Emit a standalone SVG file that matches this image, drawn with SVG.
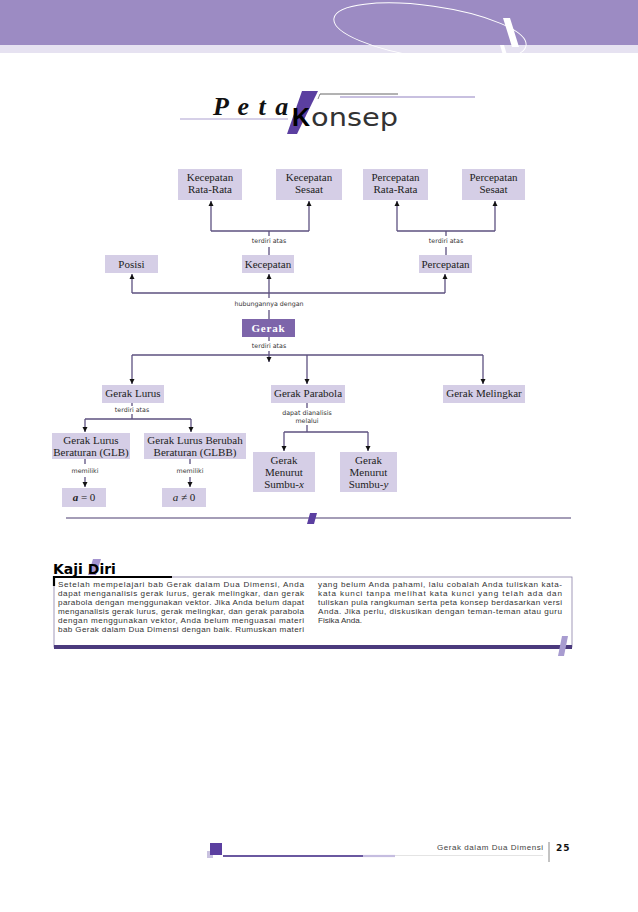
<svg xmlns="http://www.w3.org/2000/svg" width="638" height="912" viewBox="0 0 638 912">
<defs>
<style>
.box{fill:#d5cee6}
.lbl{font-family:"Liberation Serif",serif;font-size:11px;fill:#222;text-anchor:middle}
.sm{font-family:"DejaVu Sans",sans-serif;font-size:6.3px;fill:#333;text-anchor:middle}
.conn{stroke:#5d5180;stroke-width:1.3;fill:none}
.par{font-family:"Liberation Sans",sans-serif;font-size:8.1px;fill:#333}
</style>
<marker id="ad" markerUnits="userSpaceOnUse" markerWidth="6" markerHeight="6" refX="3" refY="5.5" orient="0" viewBox="0 0 6 6">
<path d="M0.5,0.5 L5.5,0.5 L3,5.5 Z" fill="#111"/>
</marker>
<marker id="au" markerUnits="userSpaceOnUse" markerWidth="6" markerHeight="6" refX="3" refY="0.5" orient="0" viewBox="0 0 6 6">
<path d="M0.5,5.5 L5.5,5.5 L3,0.5 Z" fill="#111"/>
</marker>
</defs>
<rect width="638" height="912" fill="#fff"/>
<!-- header -->
<rect x="0" y="0" width="638" height="45" fill="#9c8bc3"/>
<rect x="0" y="45" width="638" height="8" fill="#e6e2f1"/>
<ellipse cx="430" cy="32" rx="97" ry="26" transform="rotate(8 430 32)" fill="none" stroke="#fff" stroke-width="1"/>
<polygon points="503,18 510,18 519,47 512,47" fill="#fff"/>
<polygon points="500,45 504,45 509,62 505,62" fill="#fff"/>
<!-- title -->
<line x1="180" y1="119" x2="288" y2="119" stroke="#c8c0e0" stroke-width="1.5"/>
<line x1="340" y1="97" x2="475" y2="97" stroke="#c8c0e0" stroke-width="2"/>
<line x1="320" y1="94" x2="398" y2="94" stroke="#666" stroke-width="1"/>
<line x1="320" y1="94" x2="318" y2="99" stroke="#666" stroke-width="0.8"/>
<polygon points="302,91 318,91 297,134 287,134" fill="#5b3fa0"/>
<text x="213" y="115" font-family="Liberation Serif,serif" font-style="italic" font-weight="bold" font-size="26" fill="#111" letter-spacing="1.5">P e t a</text>
<text x="292" y="126" font-family="Liberation Sans,sans-serif" font-weight="bold" font-size="25" fill="#000">K</text>
<text x="311" y="126" font-family="DejaVu Sans,sans-serif" font-size="25" fill="#333" textLength="87" lengthAdjust="spacingAndGlyphs">onsep</text>
<!-- connectors -->
<g id="connectors">
<path class="conn" d="M211,231 H309 M269,231 V236 M269,247 V255" />
<path class="conn" d="M211,231 V201" marker-end="url(#au)"/>
<path class="conn" d="M309,231 V201" marker-end="url(#au)"/>
<path class="conn" d="M397,231 H495 M446,231 V236 M446,247 V255"/>
<path class="conn" d="M397,231 V201" marker-end="url(#au)"/>
<path class="conn" d="M495,231 V201" marker-end="url(#au)"/>
<path class="conn" d="M132,293 H445 M269,293 V298 M269,310 V319"/>
<path class="conn" d="M132,293 V274" marker-end="url(#au)"/>
<path class="conn" d="M269,293 V274" marker-end="url(#au)"/>
<path class="conn" d="M445,293 V274" marker-end="url(#au)"/>
<path class="conn" d="M269,337 V341 M132,355 H483"/>
<path class="conn" d="M269,351 V362" marker-end="url(#ad)"/>
<path class="conn" d="M132,355 V384" marker-end="url(#ad)"/>
<path class="conn" d="M307,355 V384" marker-end="url(#ad)"/>
<path class="conn" d="M483,355 V384" marker-end="url(#ad)"/>
<path class="conn" d="M132,403 V406 M132,414 V419 M85,419 H191"/>
<path class="conn" d="M85,419 V432" marker-end="url(#ad)"/>
<path class="conn" d="M191,419 V432" marker-end="url(#ad)"/>
<path class="conn" d="M307,403 V408 M307,425 V432 M284,432 H368"/>
<path class="conn" d="M284,432 V451" marker-end="url(#ad)"/>
<path class="conn" d="M368,432 V451" marker-end="url(#ad)"/>
<path class="conn" d="M85,459 V464 M190,459 V464"/>
<path class="conn" d="M85,477 V487" marker-end="url(#ad)"/>
<path class="conn" d="M190,477 V487" marker-end="url(#ad)"/>
<text class="sm" x="269" y="243">terdiri  atas</text>
<text class="sm" x="446" y="243">terdiri  atas</text>
<text class="sm" x="269" y="306">hubungannya  dengan</text>
<text class="sm" x="269" y="348">terdiri  atas</text>
<text class="sm" x="132" y="412">terdiri  atas</text>
<text class="sm" x="307" y="415">dapat  dianalisis</text>
<text class="sm" x="307" y="423">melalui</text>
<text class="sm" x="85" y="473">memiliki</text>
<text class="sm" x="190" y="473">memiliki</text>
</g>
<!-- nodes -->
<g id="n-kec-rr"><rect class="box" x="178" y="169" width="64" height="31"/><text class="lbl" x="210" y="181">Kecepatan</text><text class="lbl" x="210" y="193">Rata-Rata</text></g>
<g id="n-kec-s"><rect class="box" x="276" y="169" width="66" height="31"/><text class="lbl" x="309" y="181">Kecepatan</text><text class="lbl" x="309" y="193">Sesaat</text></g>
<g id="n-per-rr"><rect class="box" x="363" y="169" width="65" height="31"/><text class="lbl" x="395.5" y="181">Percepatan</text><text class="lbl" x="395.5" y="193">Rata-Rata</text></g>
<g id="n-per-s"><rect class="box" x="462" y="169" width="63" height="31"/><text class="lbl" x="493.5" y="181">Percepatan</text><text class="lbl" x="493.5" y="193">Sesaat</text></g>
<g id="n-posisi"><rect class="box" x="105" y="255" width="53" height="18"/><text class="lbl" x="131.5" y="268">Posisi</text></g>
<g id="n-kec"><rect class="box" x="242" y="255" width="52" height="18"/><text class="lbl" x="268" y="268">Kecepatan</text></g>
<g id="n-per"><rect class="box" x="419" y="255" width="53" height="18"/><text class="lbl" x="445.5" y="268">Percepatan</text></g>
<g id="n-gerak"><rect x="242" y="319" width="53" height="18" fill="#7d65aa"/><text class="lbl" x="268.5" y="332" style="fill:#fff;font-weight:bold" letter-spacing="0.8">Gerak</text></g>
<g id="n-lurus"><rect class="box" x="102" y="385" width="62" height="18"/><text class="lbl" x="133" y="397">Gerak Lurus</text></g>
<g id="n-parabola"><rect class="box" x="271" y="385" width="74" height="18"/><text class="lbl" x="308" y="397">Gerak Parabola</text></g>
<g id="n-melingkar"><rect class="box" x="443" y="385" width="82" height="18"/><text class="lbl" x="484" y="397">Gerak Melingkar</text></g>
<g id="n-glb"><rect class="box" x="52" y="433" width="78" height="26"/><text class="lbl" x="91" y="444">Gerak Lurus</text><text class="lbl" x="91" y="456">Beraturan (GLB)</text></g>
<g id="n-glbb"><rect class="box" x="144" y="433" width="102" height="26"/><text class="lbl" x="195" y="444">Gerak Lurus Berubah</text><text class="lbl" x="195" y="456">Beraturan (GLBB)</text></g>
<g id="n-sx"><rect class="box" x="253" y="452" width="62" height="40"/><text class="lbl" x="284" y="464">Gerak</text><text class="lbl" x="284" y="476">Menurut</text><text class="lbl" x="284" y="488">Sumbu-<tspan font-style="italic">x</tspan></text></g>
<g id="n-sy"><rect class="box" x="340" y="452" width="57" height="40"/><text class="lbl" x="368.5" y="464">Gerak</text><text class="lbl" x="368.5" y="476">Menurut</text><text class="lbl" x="368.5" y="488">Sumbu-<tspan font-style="italic">y</tspan></text></g>
<g id="n-a0"><rect class="box" x="62" y="488" width="44" height="19"/><text class="lbl" x="84" y="501"><tspan font-style="italic" font-weight="bold">a</tspan> = 0</text></g>
<g id="n-an0"><rect class="box" x="162" y="488" width="44" height="19"/><text class="lbl" x="184" y="501"><tspan font-style="italic">a</tspan> ≠ 0</text></g>
<!-- rule -->
<line x1="66" y1="518" x2="571" y2="518" stroke="#4a3d70" stroke-width="1.2"/>
<polygon points="310,513 317,513 314,524 307,524" fill="#5b3fa0"/>
<!-- Kaji Diri -->
<polygon points="93,559 101,559 96,575 88,575" fill="#a494d0"/>
<text x="53" y="574" font-family="DejaVu Sans,sans-serif" font-weight="bold" font-size="14" fill="#000">Kaji Diri</text>
<rect x="54" y="577" width="518" height="70" fill="none" stroke="#8a80a8" stroke-width="0.8"/>
<path d="M54,586 V577 H172" fill="none" stroke="#000" stroke-width="2.2"/>
<rect x="54" y="645" width="518" height="4" fill="#4b3a7d"/>
<polygon points="562,636 568,636 564,656 558,656" fill="#a89cd0"/>
<g class="par">
<text x="58" y="587" textLength="246" lengthAdjust="spacing">Setelah mempelajari bab Gerak dalam Dua Dimensi, Anda</text>
<text x="58" y="596" textLength="246" lengthAdjust="spacing">dapat menganalisis gerak lurus, gerak melingkar, dan gerak</text>
<text x="58" y="605" textLength="246" lengthAdjust="spacing">parabola dengan menggunakan vektor. Jika Anda belum dapat</text>
<text x="58" y="614" textLength="246" lengthAdjust="spacing">menganalisis gerak lurus, gerak melingkar, dan gerak parabola</text>
<text x="58" y="623" textLength="246" lengthAdjust="spacing">dengan menggunakan vektor, Anda belum menguasai materi</text>
<text x="58" y="632" textLength="246" lengthAdjust="spacing">bab Gerak dalam Dua Dimensi dengan baik. Rumuskan materi</text>
<text x="318" y="587" textLength="244" lengthAdjust="spacing">yang belum Anda pahami, lalu cobalah Anda tuliskan kata-</text>
<text x="318" y="596" textLength="244" lengthAdjust="spacing">kata kunci tanpa melihat kata kunci yang telah ada dan</text>
<text x="318" y="605" textLength="244" lengthAdjust="spacing">tuliskan pula rangkuman serta peta konsep berdasarkan versi</text>
<text x="318" y="614" textLength="244" lengthAdjust="spacing">Anda. Jika perlu, diskusikan dengan teman-teman atau guru</text>
<text x="318" y="623">Fisika Anda.</text>
</g>
<!-- footer -->
<rect x="207" y="851" width="6" height="7" fill="#c9c2e0"/>
<rect x="210" y="843" width="12" height="12" fill="#5b3fa0"/>
<line x1="223" y1="856" x2="363" y2="856" stroke="#6a58a0" stroke-width="2.2"/>
<line x1="363" y1="856" x2="395" y2="856" stroke="#c5bde0" stroke-width="2.2"/>
<line x1="395" y1="855.5" x2="543" y2="855.5" stroke="#ddd" stroke-width="0.8"/>
<text x="437" y="850" font-family="Liberation Sans,sans-serif" font-size="8" fill="#444" textLength="106" lengthAdjust="spacing">Gerak dalam Dua Dimensi</text>
<line x1="549" y1="842" x2="549" y2="862" stroke="#888" stroke-width="1"/>
<text x="556" y="851" font-family="DejaVu Sans,sans-serif" font-weight="bold" font-size="9" fill="#111" letter-spacing="1">25</text>
</svg>
